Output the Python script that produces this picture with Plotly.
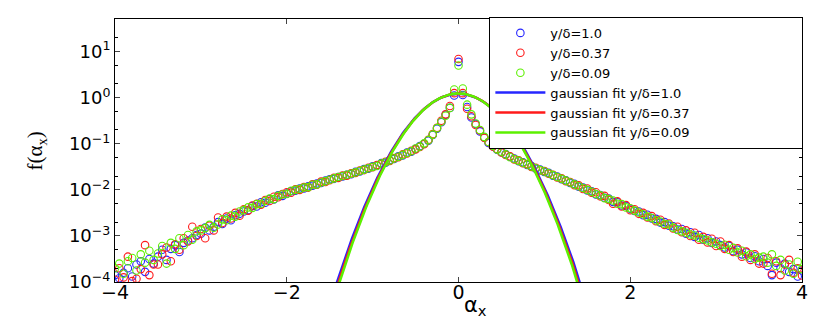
import numpy as np
import plotly.graph_objects as go

# histogram bin centres of alpha_x (-4 ... 4, step 0.05)
alpha_bins = np.round(np.linspace(-4.0, 4.0, 161), 2)

# log10 f(alpha_x)
log_f_y100 = [
    -3.85,-3.92,-3.80,-3.70,-3.88,-3.62,-3.55,-3.78,-3.50,-3.60,
    -3.45,-3.30,-3.52,-3.28,-3.20,-3.35,-3.15,-3.10,-3.05,-2.98,
    -2.95,-2.82,-2.88,-2.80,-2.70,-2.74,-2.62,-2.66,-2.55,-2.52,
    -2.47,-2.44,-2.35,-2.36,-2.27,-2.28,-2.20,-2.21,-2.12,-2.13,
    -2.08,-2.03,-2.02,-1.97,-1.97,-1.92,-1.91,-1.86,-1.85,-1.80,
    -1.77,-1.76,-1.72,-1.71,-1.67,-1.66,-1.61,-1.60,-1.55,-1.54,
    -1.49,-1.47,-1.42,-1.41,-1.35,-1.33,-1.27,-1.25,-1.19,-1.17,
    -1.11,-1.05,-1.00,-0.93,-0.81,-0.67,-0.53,-0.37,-0.22,0.05,
    0.78,
    0.06,-0.20,-0.43,-0.57,-0.73,-0.86,-0.98,-1.05,-1.13,-1.18,
    -1.22,-1.28,-1.32,-1.38,-1.40,-1.46,-1.48,-1.54,-1.56,-1.61,
    -1.63,-1.69,-1.71,-1.77,-1.79,-1.85,-1.87,-1.93,-1.95,-2.01,
    -2.03,-2.10,-2.11,-2.17,-2.19,-2.26,-2.27,-2.34,-2.35,-2.41,
    -2.46,-2.47,-2.55,-2.54,-2.62,-2.63,-2.71,-2.70,-2.78,-2.79,
    -2.86,-2.85,-2.95,-2.92,-3.02,-2.98,-3.08,-3.05,-3.15,-3.12,
    -3.20,-3.25,-3.22,-3.33,-3.30,-3.40,-3.36,-3.48,-3.44,-3.55,
    -3.50,-3.65,-3.85,-3.58,-3.70,-3.60,-3.78,-3.72,-3.88,-3.75,
]
log_f_y037 = [
    -3.95,-3.70,-3.90,-3.45,-3.98,-3.93,-3.72,-3.20,-3.85,-3.62,
    -3.62,-3.40,-3.25,-3.55,-3.18,-3.30,-3.05,-3.12,-2.80,-3.00,
    -2.85,-3.05,-2.78,-2.88,-2.60,-2.72,-2.58,-2.62,-2.50,-2.56,
    -2.42,-2.45,-2.34,-2.30,-2.32,-2.22,-2.24,-2.15,-2.16,-2.09,
    -2.05,-2.06,-1.99,-2.00,-1.94,-1.95,-1.88,-1.89,-1.82,-1.83,
    -1.79,-1.74,-1.74,-1.69,-1.69,-1.64,-1.63,-1.58,-1.57,-1.52,
    -1.51,-1.46,-1.44,-1.39,-1.37,-1.31,-1.29,-1.23,-1.21,-1.15,
    -1.12,-1.07,-1.01,-0.91,-0.79,-0.65,-0.50,-0.36,-0.18,0.10,
    0.84,
    0.10,-0.24,-0.40,-0.59,-0.71,-0.87,-0.96,-1.06,-1.11,-1.19,
    -1.24,-1.27,-1.34,-1.36,-1.42,-1.44,-1.50,-1.52,-1.58,-1.59,
    -1.65,-1.67,-1.73,-1.75,-1.81,-1.83,-1.90,-1.90,-1.98,-1.97,
    -2.06,-2.05,-2.14,-2.13,-2.22,-2.30,-2.25,-2.36,-2.33,-2.44,
    -2.42,-2.52,-2.50,-2.60,-2.57,-2.68,-2.65,-2.76,-2.73,-2.84,
    -2.80,-2.92,-2.88,-3.00,-2.93,-3.08,-3.02,-3.14,-3.06,-3.22,
    -3.12,-3.28,-3.20,-3.35,-3.27,-3.45,-3.34,-3.52,-3.40,-3.60,
    -3.60,-3.48,-3.82,-3.55,-3.85,-3.62,-3.52,-3.80,-3.70,-3.86,
]
log_f_y009 = [
    -3.70,-3.60,-3.82,-3.55,-3.48,-3.75,-3.40,-3.58,-3.32,-3.52,
    -3.38,-3.22,-3.60,-3.15,-3.28,-3.05,-3.20,-2.98,-3.08,-2.90,
    -2.88,-2.83,-2.76,-2.82,-2.75,-2.64,-2.66,-2.56,-2.58,-2.47,
    -2.44,-2.38,-2.39,-2.31,-2.30,-2.24,-2.19,-2.20,-2.13,-2.10,
    -2.09,-2.02,-2.00,-1.98,-1.95,-1.94,-1.89,-1.88,-1.84,-1.81,
    -1.78,-1.75,-1.72,-1.70,-1.67,-1.65,-1.62,-1.59,-1.56,-1.53,
    -1.50,-1.48,-1.43,-1.40,-1.36,-1.32,-1.28,-1.24,-1.20,-1.16,
    -1.10,-1.06,-0.99,-0.92,-0.80,-0.66,-0.52,-0.39,-0.22,0.18,
    0.70,
    0.20,-0.15,-0.36,-0.56,-0.70,-0.85,-0.96,-1.04,-1.12,-1.17,
    -1.23,-1.29,-1.33,-1.37,-1.41,-1.45,-1.49,-1.53,-1.57,-1.60,
    -1.64,-1.68,-1.72,-1.76,-1.80,-1.84,-1.88,-1.92,-1.96,-2.00,
    -2.04,-2.09,-2.12,-2.18,-2.20,-2.23,-2.30,-2.31,-2.38,-2.40,
    -2.45,-2.49,-2.53,-2.58,-2.61,-2.66,-2.69,-2.74,-2.75,-2.82,
    -2.87,-2.90,-2.93,-2.97,-2.99,-3.04,-3.07,-3.10,-3.14,-3.17,
    -3.22,-3.19,-3.30,-3.26,-3.36,-3.32,-3.44,-3.40,-3.50,-3.47,
    -3.45,-3.58,-3.40,-3.65,-3.52,-3.75,-3.62,-3.82,-3.56,-3.72,
]

series_names = ["y/δ=1.0", "y/δ=0.37", "y/δ=0.09"]
fit_names = ["gaussian fit y/δ=1.0", "gaussian fit y/δ=0.37", "gaussian fit y/δ=0.09"]
colors = ["#2626ff", "#ff1a1a", "#5cf000"]

# gaussian fit parameters (peak height, standard deviation)
fit_peak = [1.22, 1.23, 1.24]
fit_sigma = [0.326, 0.322, 0.319]

FONT = "DejaVu Sans, Liberation Sans, sans-serif"
PAD = "\u00a0" * 26  # widens the legend box like the reference

fig = go.Figure()

for name, logv, col in zip(series_names, [log_f_y100, log_f_y037, log_f_y009], colors):
    fig.add_trace(go.Scatter(
        x=alpha_bins, y=10 ** np.array(logv), mode="markers", name=name,
        marker=dict(symbol="circle-open", size=7.5, color=col, line=dict(width=1.1, color=col)),
    ))

xf = np.linspace(-1.6, 1.6, 401)
for name, pk, sg, col in zip(fit_names, fit_peak, fit_sigma, colors):
    fig.add_trace(go.Scatter(
        x=xf, y=pk * np.exp(-xf ** 2 / (2 * sg ** 2)), mode="lines", name=name + PAD,
        line=dict(color=col, width=2.5),
    ))

ytick_vals = [1e-4, 1e-3, 1e-2, 1e-1, 1e0, 1e1]
ytick_text = ["10<sup>−4</sup>", "10<sup>−3</sup>", "10<sup>−2</sup>",
              "10<sup>−1</sup>", "10<sup>0</sup>", "10<sup>1</sup>"]
xtick_vals = [-4, -2, 0, 2, 4]

# the page body adds an 8 px offset, margins compensate for it
fig.update_layout(
    width=830, height=327,
    margin=dict(l=107, r=36, t=10, b=53),
    paper_bgcolor="white", plot_bgcolor="white",
    font=dict(family=FONT, size=16, color="black"),
    showlegend=True,
    legend=dict(
        x=1.002, xanchor="right", y=1.004, yanchor="top",
        bgcolor="white", bordercolor="black", borderwidth=1,
        font=dict(size=13, family=FONT), itemwidth=50, tracegroupgap=0,
    ),
    annotations=[
        dict(text="α<sub>x</sub>", xref="x", yref="paper", x=0.2, y=-0.035,
             xanchor="center", yanchor="top", showarrow=False,
             font=dict(size=21, family=FONT)),
        dict(text="f(α<sub>x</sub>)", xref="paper", yref="paper", x=-0.115, y=0.5,
             xanchor="center", yanchor="middle", showarrow=False, textangle=-90,
             font=dict(size=21, family="Liberation Serif, serif")),
    ],
)
fig.update_xaxes(
    range=[-4, 4], tickvals=xtick_vals, ticks="inside", ticklen=5,
    showline=True, linecolor="black", linewidth=1, mirror="ticks",
    showgrid=False, zeroline=False, automargin=False,
    tickfont=dict(size=19, family=FONT), ticklabelstandoff=-7,
)
fig.update_yaxes(
    type="log", range=[-4, 1.71], tickvals=ytick_vals, ticktext=ytick_text,
    ticks="inside", ticklen=5,
    minor=dict(ticks="inside", ticklen=3, showgrid=False, tickcolor="black"),
    showline=True, linecolor="black", linewidth=1, mirror="ticks",
    showgrid=False, zeroline=False, automargin=False,
    tickfont=dict(size=18, family=FONT),
)

fig.write_html("out.html")
